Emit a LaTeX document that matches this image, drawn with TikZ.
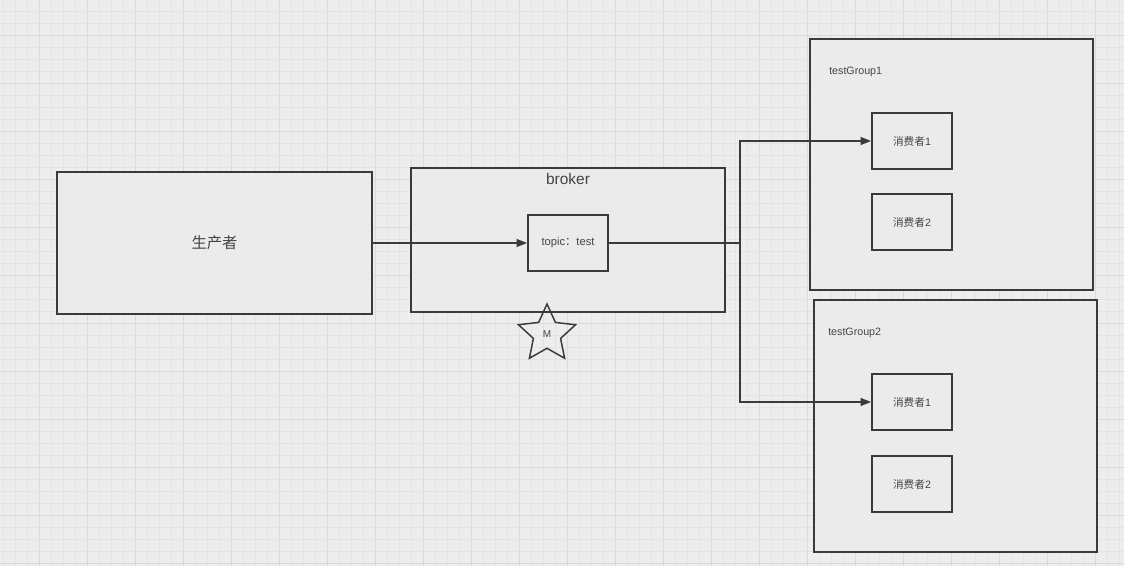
\documentclass[tikz,border=0pt]{standalone}
\usepackage{fontspec}
\setmainfont{Liberation Sans}
\newfontfamily\cjk{Noto Sans CJK SC}
\usetikzlibrary{arrows.meta,shapes.geometric}
\definecolor{bg}{HTML}{EDEDED}
\definecolor{gmin}{HTML}{E3E3E3}
\definecolor{gmaj}{HTML}{DADADA}
\definecolor{boxfill}{HTML}{EBEBEB}
\definecolor{ink}{HTML}{3A3A3A}
\definecolor{txt}{HTML}{444444}
\tikzset{
  box/.style={draw=ink, line width=1.1pt, fill=boxfill, inner sep=0pt, text=txt},
  conn/.style={draw=ink, line width=1.3pt},
  arr/.style={conn, -{Triangle[length=8pt,width=5.8pt]}},
  gridminor/.style={draw=gmin, line width=0.5pt},
  gridmajor/.style={draw=gmaj, line width=0.6pt},
}
\begin{document}
\begin{tikzpicture}[x=0.75pt,y=-0.75pt]
\path[use as bounding box, fill=bg] (0,0) rectangle (1124,566);
% grid
\foreach \i in {0,...,93} {
  \pgfmathtruncatemacro\m{mod(\i,4)}
  \ifnum\m=3 \draw[gridmajor] (3.5+12*\i,0) -- (3.5+12*\i,566);
  \else \draw[gridminor] (3.5+12*\i,0) -- (3.5+12*\i,566); \fi
}
\foreach \j in {0,...,46} {
  \pgfmathtruncatemacro\m{mod(\j,4)}
  \ifnum\m=2 \draw[gridmajor] (0,11.5+12*\j) -- (1124,11.5+12*\j);
  \else \draw[gridminor] (0,11.5+12*\j) -- (1124,11.5+12*\j); \fi
}
% producer
\node[box, minimum width=315*0.75pt, minimum height=142*0.75pt, font=\cjk\fontsize{11.5pt}{13pt}\selectfont] (prod) at (214.5,243) {生产者};
% broker
\node[box, minimum width=314*0.75pt, minimum height=144*0.75pt] (broker) at (568,240) {};
\node[text=txt, font=\fontsize{11.6pt}{13pt}\selectfont, inner sep=0pt] (brokerlbl) at (568,178.5) {broker};
\node[box, minimum width=80*0.75pt, minimum height=56*0.75pt, font=\fontsize{8.4pt}{10pt}\selectfont] (topic) at (568,243) {topic{\cjk ：}test};
% groups
\node[box, minimum width=283*0.75pt, minimum height=251*0.75pt] (g1) at (951.5,164.5) {};
\node[text=txt, font=\fontsize{8pt}{10pt}\selectfont, inner sep=0pt, anchor=west] (g1lbl) at (829,71.5) {testGroup1};
\node[box, minimum width=80*0.75pt, minimum height=56*0.75pt, font=\fontsize{8pt}{10pt}\selectfont] (g1c1) at (912,141) {{\cjk 消费者}1};
\node[box, minimum width=80*0.75pt, minimum height=56*0.75pt, font=\fontsize{8pt}{10pt}\selectfont] (g1c2) at (912,222) {{\cjk 消费者}2};
\node[box, minimum width=283*0.75pt, minimum height=252*0.75pt] (g2) at (955.5,426) {};
\node[text=txt, font=\fontsize{8pt}{10pt}\selectfont, inner sep=0pt, anchor=west] (g2lbl) at (828,332.5) {testGroup2};
\node[box, minimum width=80*0.75pt, minimum height=56*0.75pt, font=\fontsize{8pt}{10pt}\selectfont] (g2c1) at (912,402) {{\cjk 消费者}1};
\node[box, minimum width=80*0.75pt, minimum height=56*0.75pt, font=\fontsize{8pt}{10pt}\selectfont] (g2c2) at (912,484) {{\cjk 消费者}2};
% star
\node[star, star points=5, star point ratio=2.1, draw=ink, line width=1.1pt, fill=none, minimum size=60*0.75pt, inner sep=0pt, text=txt, font=\fontsize{7.5pt}{9pt}\selectfont] (m) at (547,334) {M};
% connectors
\coordinate (j) at (740,243);
\draw[arr] (prod) -- (topic);
\draw[conn] (topic.east) -- (j);
\draw[arr] (j) |- (g1c1.west);
\draw[arr] (j) |- (g2c1.west);
\end{tikzpicture}
\end{document}
